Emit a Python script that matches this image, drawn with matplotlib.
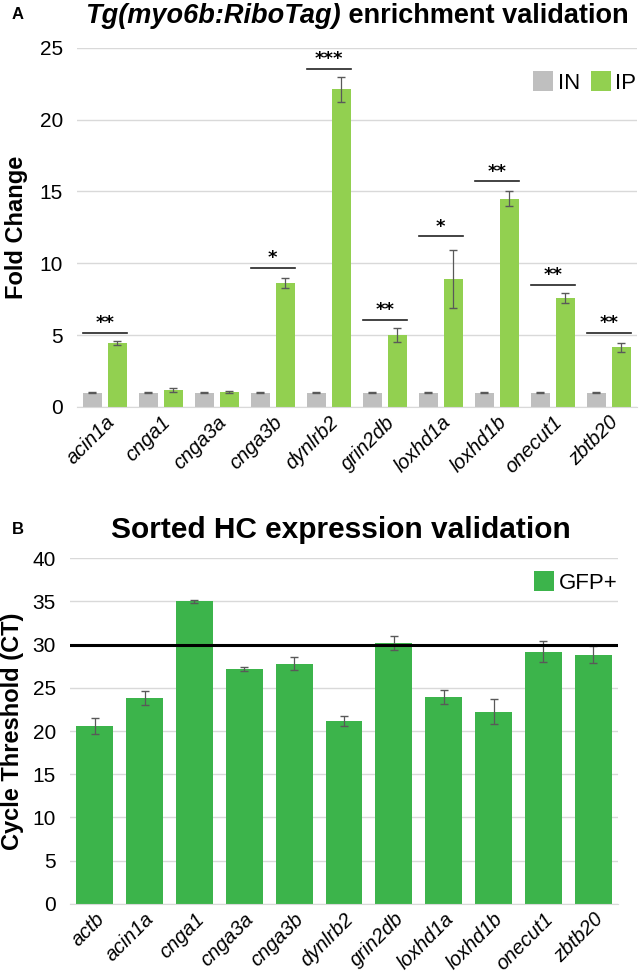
import matplotlib.pyplot as plt
import numpy as np

genes_a = ['acin1a', 'cnga1', 'cnga3a', 'cnga3b', 'dynlrb2', 'grin2db',
           'loxhd1a', 'loxhd1b', 'onecut1', 'zbtb20']
in_vals = [1, 1, 1, 1, 1, 1, 1, 1, 1, 1]
in_err = [0.06, 0.06, 0.06, 0.06, 0.06, 0.06, 0.06, 0.06, 0.06, 0.06]
ip_vals = [4.45, 1.2, 1.07, 8.62, 22.1, 5.0, 8.9, 14.5, 7.6, 4.15]
ip_err = [0.15, 0.15, 0.07, 0.37, 0.85, 0.5, 2.0, 0.5, 0.35, 0.3]
sig_stars = ['**', '', '', '*', '***', '**', '*', '**', '**', '**']
sig_y = [5.15, None, None, 9.68, 23.55, 6.05, 11.88, 15.7, 8.5, 5.15]

genes_b = ['actb', 'acin1a', 'cnga1', 'cnga3a', 'cnga3b', 'dynlrb2', 'grin2db',
           'loxhd1a', 'loxhd1b', 'onecut1', 'zbtb20']
gfp_vals = [20.55, 23.8, 35.0, 27.2, 27.8, 21.15, 30.2, 23.95, 22.25, 29.2, 28.85]
gfp_err = [0.9, 0.8, 0.15, 0.2, 0.75, 0.55, 0.85, 0.85, 1.4, 1.2, 1.0]
threshold = 30

narrow = ['Liberation Sans Narrow', 'Liberation Sans', 'DejaVu Sans']
plt.rcParams['font.family'] = ['Liberation Sans', 'DejaVu Sans']

fig = plt.figure(figsize=(6.4, 9.76), dpi=100)
grid_c = '#d9d9d9'
err_c = '#595959'

# ---- panel A
ax = fig.add_axes([0.120, 0.583, 0.875, 0.368])
x = np.arange(len(genes_a))
ax.bar(x - 0.22, in_vals, 0.34, color='#bfbfbf', label='IN', zorder=2)
ax.bar(x + 0.22, ip_vals, 0.34, color='#92d050', label='IP', zorder=2)
ax.errorbar(x - 0.22, in_vals, yerr=in_err, fmt='none', ecolor=err_c, elinewidth=0.9, capsize=3, zorder=3)
ax.errorbar(x + 0.22, ip_vals, yerr=ip_err, fmt='none', ecolor=err_c, elinewidth=0.9, capsize=3, zorder=3)
for i in range(len(genes_a)):
    if sig_stars[i]:
        ax.plot([i - 0.39, i + 0.39], [sig_y[i], sig_y[i]], color='#222222', lw=1.2, zorder=3)
        ax.text(i, sig_y[i] + 0.05, sig_stars[i], ha='center', va='bottom', fontsize=13,
                family='DejaVu Sans', fontweight='bold')
ax.set_xlim(-0.5, len(genes_a) - 0.5)
ax.set_ylim(0, 25)
ax.set_yticks(range(0, 26, 5))
ax.set_xticks(x)
ax.set_xticklabels(genes_a, rotation=45, ha='right', rotation_mode='anchor',
                   style='italic', fontsize=14.5, family=narrow)
ax.tick_params(axis='y', labelsize=15, length=0, pad=10)
ax.tick_params(axis='x', length=0, pad=4)
for lab in ax.get_yticklabels():
    lab.set_family(narrow)
ax.grid(axis='y', color=grid_c, lw=1, zorder=0)
for s in ['top', 'right', 'left']:
    ax.spines[s].set_visible(False)
ax.spines['bottom'].set_color(grid_c)
ax.set_ylabel('Fold Change', fontsize=17, fontweight='bold', labelpad=8)
ax.legend(loc='upper right', bbox_to_anchor=(1.035, 0.99), ncol=2, frameon=False,
          handlelength=0.9, handleheight=1.0, handletextpad=0.2, columnspacing=0.5,
          prop={'family': narrow, 'size': 16})
fig.text(0.018, 0.985, 'A', fontsize=12, fontweight='bold', va='center')
t1 = fig.text(0.133, 0.984, 'Tg(myo6b:RiboTag)', fontsize=19.5, fontweight='bold',
              style='italic', va='center')
ax.annotate(' enrichment validation', xy=(1, 0.5), xycoords=t1, va='center', ha='left',
            fontsize=19.5, fontweight='bold', annotation_clip=False)

# ---- panel B
bx = fig.add_axes([0.109, 0.074, 0.857, 0.354])
xb = np.arange(len(genes_b))
bx.bar(xb, gfp_vals, 0.74, color='#3cb44b', label='GFP+', zorder=2)
bx.errorbar(xb, gfp_vals, yerr=gfp_err, fmt='none', ecolor=err_c, elinewidth=0.9, capsize=3, zorder=3)
bx.axhline(threshold, color='black', lw=2.2, zorder=4)
bx.set_xlim(-0.5, len(genes_b) - 0.5)
bx.set_ylim(0, 40)
bx.set_yticks(range(0, 41, 5))
bx.set_xticks(xb)
bx.set_xticklabels(genes_b, rotation=45, ha='right', rotation_mode='anchor',
                   style='italic', fontsize=14.5, family=narrow)
bx.tick_params(axis='y', labelsize=15, length=0, pad=10)
bx.tick_params(axis='x', length=0, pad=4)
for lab in bx.get_yticklabels():
    lab.set_family(narrow)
bx.grid(axis='y', color=grid_c, lw=1, zorder=0)
for s in ['top', 'right', 'left']:
    bx.spines[s].set_visible(False)
bx.spines['bottom'].set_color(grid_c)
bx.set_ylabel('Cycle Threshold (CT)', fontsize=17, fontweight='bold', labelpad=6)
bx.legend(loc='upper right', bbox_to_anchor=(1.035, 1.02), frameon=False,
          handlelength=0.9, handleheight=1.0, handletextpad=0.2,
          prop={'family': narrow, 'size': 16})
fig.text(0.018, 0.457, 'B', fontsize=12, fontweight='bold', va='center')
fig.text(0.533, 0.457, 'Sorted HC expression validation', fontsize=21.5, fontweight='bold',
         ha='center', va='center')

fig.savefig('out.png', dpi=100)
